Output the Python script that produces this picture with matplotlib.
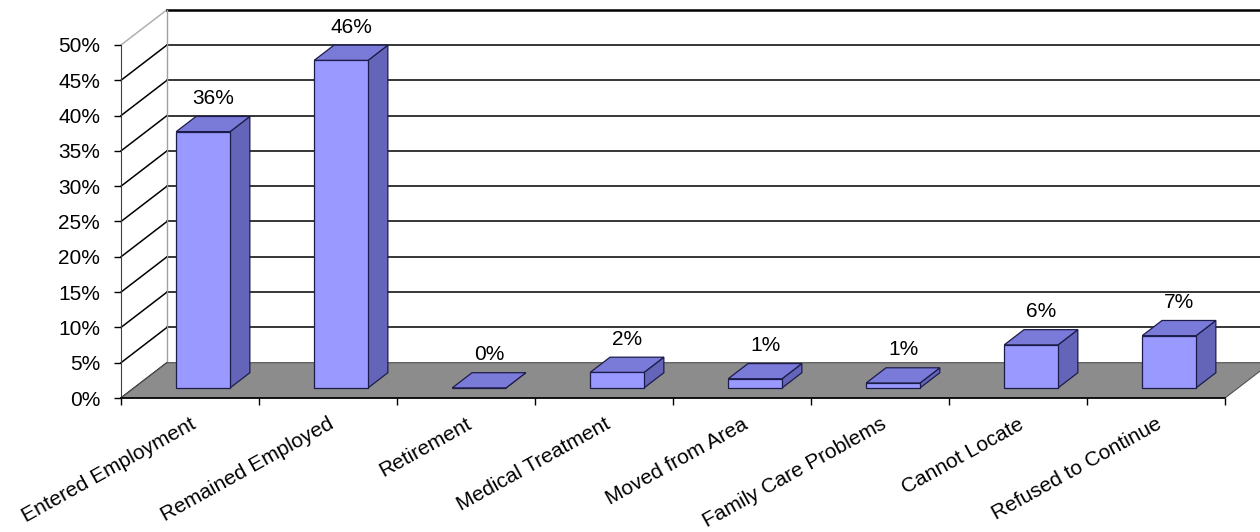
import matplotlib
matplotlib.use('Agg')
from matplotlib import pyplot as plt
from matplotlib.patches import Polygon
from matplotlib.ticker import FixedLocator, PercentFormatter

plt.rcParams['font.family'] = ['Liberation Sans', 'DejaVu Sans']

# data
categories = ['Entered Employment', 'Remained Employed', 'Retirement', 'Medical Treatment',
              'Moved from Area', 'Family Care Problems', 'Cannot Locate', 'Refused to Continue']
values = [36.3, 46.4, 0.0, 2.2, 1.3, 0.7, 6.1, 7.4]
y_ticks = [0, 5, 10, 15, 20, 25, 30, 35, 40, 45, 50]

# 3d look: depth of the box in data units (x in categories, y in percent)
DX, DY = 1 / 3, 5.0
d0, dd = 0.286, 0.43     # bar start depth and bar depth (fraction of the box)
w = 0.39                 # bar width

front = '#9999FF'
top_c = '#7A7AD8'
side_c = '#6464B8'
edge = '#1C1C4A'

fig = plt.figure(figsize=(12.6, 5.32), dpi=100)
ax = fig.add_axes([121 / 1260, (532 - 398) / 532, 1104 / 1260, 353 / 532])
n = len(categories)
ax.set_xlim(0, n)
ax.set_ylim(0, 50)

# side wall and back wall grid
for v in y_ticks:
    c = '#B0B0B0' if v == y_ticks[-1] else 'black'
    ax.plot([0, DX], [v, v + DY], color=c, lw=1.1, clip_on=False, zorder=1)
    if v > 0:
        lw = 1.8 if v == y_ticks[-1] else 1.1
        ax.plot([DX, n + DX + 0.1], [v + DY, v + DY], color='black', lw=lw, clip_on=False, zorder=1)
ax.plot([DX, DX], [DY, y_ticks[-1] + DY], color='#A0A0A0', lw=1.0, clip_on=False, zorder=1)

# floor
floor = Polygon([(0, 0), (n, 0), (n + DX, DY), (DX, DY)], closed=True,
                facecolor='#8C8C8C', edgecolor='#505050', lw=0.8, clip_on=False, zorder=2)
ax.add_patch(floor)

# bars
for i, v in enumerate(values):
    x0 = i + 0.5 - w / 2 + d0 * DX
    y0 = d0 * DY
    ox, oy = dd * DX, dd * DY
    face = Polygon([(x0, y0), (x0 + w, y0), (x0 + w, y0 + v), (x0, y0 + v)], closed=True,
                   facecolor=front, edgecolor=edge, lw=0.9, clip_on=False, zorder=4)
    topf = Polygon([(x0, y0 + v), (x0 + w, y0 + v), (x0 + w + ox, y0 + v + oy), (x0 + ox, y0 + v + oy)],
                   closed=True, facecolor=top_c, edgecolor=edge, lw=0.9, clip_on=False, zorder=4)
    sidef = Polygon([(x0 + w, y0), (x0 + w + ox, y0 + oy), (x0 + w + ox, y0 + v + oy), (x0 + w, y0 + v)],
                    closed=True, facecolor=side_c, edgecolor=edge, lw=0.9, clip_on=False, zorder=4)
    ax.add_patch(sidef)
    ax.add_patch(face)
    ax.add_patch(topf)
    ax.annotate(f'{v:.0f}%', (x0 + w / 2 + ox / 2, y0 + v + oy), xytext=(0, 13),
                textcoords='offset points', ha='center', va='center', fontsize=15, zorder=5,
                annotation_clip=False)

# axes
for s in ['top', 'right']:
    ax.spines[s].set_visible(False)
ax.spines['left'].set_color('#404040')
ax.spines['bottom'].set_color('black')
ax.spines['bottom'].set_linewidth(1.2)
ax.spines['left'].set_zorder(3)
ax.spines['bottom'].set_zorder(3)
ax.patch.set_alpha(0)

ax.set_yticks(y_ticks)
ax.yaxis.set_major_formatter(PercentFormatter(decimals=0))
ax.tick_params(axis='y', length=5, width=1, labelsize=15, pad=10)

ax.xaxis.set_major_locator(FixedLocator(range(n + 1)))
ax.xaxis.set_major_formatter(plt.NullFormatter())
ax.set_xticks([i + 0.5 for i in range(n)], categories, minor=True)
ax.tick_params(axis='x', which='major', length=5, width=1)
ax.tick_params(axis='x', which='minor', length=0, labelsize=15, pad=12)
for lab in ax.get_xticklabels(minor=True):
    lab.set_rotation(29)
    lab.set_ha('right')
    lab.set_va('top')
    lab.set_rotation_mode('anchor')

fig.savefig('out.png', dpi=100)
